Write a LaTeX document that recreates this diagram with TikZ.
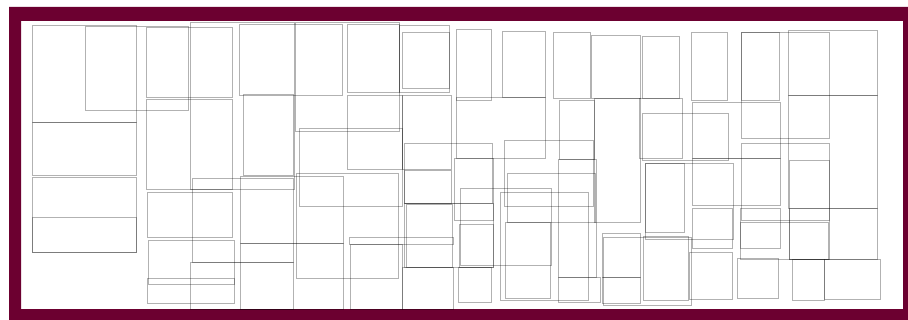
\documentclass[tikz,border=0pt]{standalone}
\definecolor{framered}{RGB}{108,0,48}

\begin{document}
\begin{tikzpicture}[x=0.03cm,y=-0.03cm,
  tile/.style={draw=black,draw opacity=.3,line width=.5pt}]
\useasboundingbox (0,0) rectangle (908,320);
\fill[white] (0,0) rectangle (908,320);
\fill[framered,even odd rule] (9,7) rectangle (908,320) (21,21) rectangle (903,309);
\foreach \xa/\ya/\xb/\yb in {32/25/136/122,32/122/136/175,32/177/136/252,32/217/136/252,
  85/26/188/110,146/27/232/97,146/99/232/189,190/22/294/189,147/192/232/237,
  148/240/234/284,147/278/234/303,192/178/293/262,190/262/293/309,
  239/24/342/95,295/22/399/131,347/24/399/92,243/94/293/175,240/176/343/243,
  240/243/343/309,299/128/402/206,347/95/402/169,296/173/398/278,
  349/237/453/244,350/244/402/309,399/25/449/92,402/32/449/88,402/95/451/169,
  404/143/492/203,404/170/451/203,406/204/452/267,404/203/493/267,402/267/453/309,
  456/29/491/100,502/31/545/97,456/97/545/158,454/158/493/220,504/140/593/206,
  507/173/595/222,460/188/551/265,459/224/493/267,458/267/491/302,500/192/588/300,
  505/222/550/298,553/32/590/98,559/100/594/159,558/159/596/277,558/277/600/302,
  591/35/640/98,642/36/679/98,639/98/682/158,642/113/728/160,594/98/640/222,
  645/163/733/239,645/163/684/232,602/233/640/277,602/277/640/303,603/237/691/305,
  643/236/688/300,689/252/732/299,692/208/732/248,691/32/727/100,692/102/780/158,
  692/158/780/205,741/32/779/100,741/32/829/138,741/143/829/220,740/222/828/259,
  740/208/780/248,737/258/778/298,788/30/877/95,788/95/877/208,789/208/877/259,
  789/160/829/259,792/259/824/300,824/259/880/299}
  \draw[tile] (\xa,\ya) rectangle (\xb,\yb);
\end{tikzpicture}
\end{document}
